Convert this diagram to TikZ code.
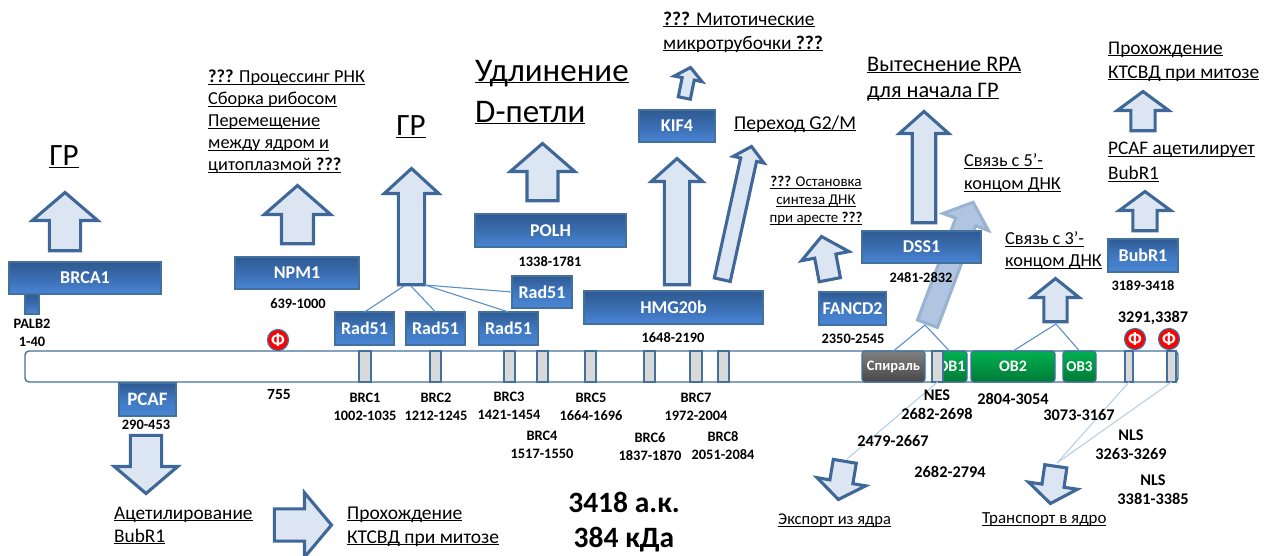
\documentclass[tikz,border=0pt]{standalone}
\usepackage{fontspec}
\setmainfont{Carlito}
\definecolor{ablue}{HTML}{3F6797}
\definecolor{afill}{HTML}{DCE6F2}
\definecolor{bline}{HTML}{41719C}
\definecolor{thin}{HTML}{5B8FC7}
\definecolor{pale}{HTML}{B9CFE7}
\definecolor{HMGt}{HTML}{2F5A92}
\definecolor{HMGm}{HTML}{3A6DB0}
\definecolor{HMGb}{HTML}{4A86D6}
\definecolor{HMGl}{HTML}{3F78C0}
\definecolor{GRt}{HTML}{00B050}
\definecolor{GRb}{HTML}{007A37}
\definecolor{ghostfill}{HTML}{AFC5E2}
\definecolor{ghostline}{HTML}{9AB3D0}
\newcommand\ulx[1]{\underline{\vphantom{H}\smash{#1}}}
\newcommand\fs[1]{\fontsize{#1}{#1}\selectfont}
\tikzset{
  x=1pt,y=-1pt,
  blockarrow/.style={draw=ablue,fill=afill,line width=3.1pt,miter limit=10},
  ghostarrow/.style={draw=ghostline,fill=ghostfill,line width=3.1pt},
  bigbox/.style={draw=bline,line width=1.2pt,top color=HMGt,bottom color=HMGb,middle color=HMGm,text=white,font=\fs{18}\bfseries},
  smallbox/.style={draw=bline,line width=1.2pt,top color=HMGt,bottom color=HMGb,middle color=HMGl,text=white,font=\fs{18}\bfseries},
  greenbox/.style={draw=bline,line width=1.2pt,rounded corners=3pt,top color=GRt,bottom color=GRb,text=white,font=\fs{16}\bfseries},
  greybox/.style={draw=bline,line width=1.2pt,rounded corners=3pt,top color=black!50,bottom color=black!72,text=white,font=\fs{14.5}\bfseries},
  brcbar/.style={draw=bline,line width=1.2pt,fill=black!15},
  mainbar/.style={draw=bline,line width=1.4pt,fill=white,rounded corners=4pt},
  phi/.style={circle,draw=bline,line width=1.2pt,fill=red,text=white,minimum size=21pt,inner sep=0pt,font=\fs{19}\bfseries},
  num/.style={inner sep=0pt,font=\fs{14.4}\bfseries},
  numb/.style={inner sep=0pt,font=\fs{16.3}\bfseries},
  txt/.style={inner sep=0pt,anchor=west,align=left},
  link/.style={draw=thin,line width=1.1pt},
  palelink/.style={draw=pale,line width=1.1pt},
}
% box from corners: name, x0,y0,x1,y1, style, text
\newcommand\bx[7]{%
  \pgfmathsetmacro\bcx{(#2+#4)/2}\pgfmathsetmacro\bcy{(#3+#5)/2}%
  \pgfmathsetmacro\bw{#4-#2}\pgfmathsetmacro\bh{#5-#3}%
  \node[#6,inner sep=0pt,outer sep=0pt,minimum width=\bw pt,minimum height=\bh pt] (#1) at (\bcx,\bcy) {#7};}
% block arrow: [style] base x,y  tip x,y  shaft  head width  head length
\newcommand\barrow[8][blockarrow]{%
  \pgfmathsetmacro\dx{#4-#2}\pgfmathsetmacro\dy{#5-#3}\pgfmathsetmacro\ll{veclen(\dx,\dy)}%
  \pgfmathsetmacro\ux{\dx/\ll}\pgfmathsetmacro\uy{\dy/\ll}%
  \pgfmathsetmacro\hx{#4-\ux*#8}\pgfmathsetmacro\hy{#5-\uy*#8}%
  \pgfmathsetmacro\sa{#6/2}\pgfmathsetmacro\ha{#7/2+1.2}%
  \path[#1] ({#2-\uy*\sa},{#3+\ux*\sa}) -- ({\hx-\uy*\sa},{\hy+\ux*\sa}) -- ({\hx-\uy*\ha},{\hy+\ux*\ha})
    -- (#4,#5) -- ({\hx+\uy*\ha},{\hy-\ux*\ha}) -- ({\hx+\uy*\sa},{\hy-\ux*\sa}) -- ({#2+\uy*\sa},{#3-\ux*\sa}) -- cycle;}
\begin{document}
\begin{tikzpicture}
\useasboundingbox (0,0) rectangle (1264,555);
\clip (0,0) rectangle (1264,555);
% links
\coordinate (radbaseA) at (404,286);
\coordinate (radbaseB) at (411,286);
\coordinate (radbaseC) at (425,285);
\coordinate (spiralapex) at (925,325);
\coordinate (obapex) at (1056,324);
\coordinate (exporttail) at (847,459);
\coordinate (transporttail) at (1057,463);
% main bar
\node[mainbar,inner sep=0pt,outer sep=0pt,minimum width=1153pt,minimum height=31pt] (bar) at (601.5,366.5) {};
% domains on the bar
\bx{spiral}{862}{351}{925}{382}{greybox}{Спираль}
\bx{ob1}{932}{351}{967}{382}{greenbox}{\hspace*{4pt}OB1}
\bx{ob2}{971}{351}{1055}{382}{greenbox}{OB2}
\bx{ob3}{1063}{351}{1096}{382}{greenbox,font=\fs{15}\bfseries}{OB3}
\bx{brcA}{359}{351}{371}{382}{brcbar}{}
\bx{brcB}{430}{351}{441}{382}{brcbar}{}
\bx{brcC}{504}{351}{515}{382}{brcbar}{}
\bx{brcD}{537}{351}{548}{382}{brcbar}{}
\bx{brcE}{585}{351}{596}{382}{brcbar}{}
\bx{brcF}{644}{351}{655}{382}{brcbar}{}
\bx{brcG}{690}{351}{702}{382}{brcbar}{}
\bx{brcH}{718}{351}{729}{382}{brcbar}{}
\bx{nesbar}{932}{351}{943}{382}{brcbar}{}
\bx{nlsA}{1125}{351}{1133}{382}{brcbar}{}
\bx{nlsB}{1167}{351}{1176}{382}{brcbar}{}
% arrows going up
\barrow{65}{250.7}{65}{192.5}{31.3}{63}{28}
\barrow{297.5}{243.7}{297.5}{185.5}{32}{64}{29}
\barrow{411.5}{284.7}{411.5}{168.5}{26.3}{52}{25}
\barrow{542.5}{200.7}{542.5}{143.5}{31}{62}{28}
\barrow{677}{284.7}{677}{158.5}{25.3}{49}{23}
\barrow{684.3}{98}{690.5}{67.5}{12.3}{26}{11.6}
\barrow{722.3}{279.7}{751.5}{146.5}{16.3}{29}{13.5}
\barrow{829.8}{279.7}{821.5}{236.5}{21.6}{46}{20}
\barrow{924}{222.7}{924}{111.5}{23.5}{47}{22}
\barrow{1055.5}{321.7}{1055.5}{278.5}{23.3}{45}{19}
\barrow{1145}{230.7}{1145}{191.5}{24.3}{49}{19}
\barrow{1143}{130.7}{1143}{91.5}{24.3}{49}{19}
\barrow[ghostarrow]{927.5}{323.7}{973.1}{202.3}{21.3}{46}{21}
% arrows going down / right
\barrow{146}{435.3}{146}{493.5}{31.3}{61}{27}
\barrow{274.3}{525}{331.5}{525}{32.3}{62}{27}
\barrow{844.8}{461.3}{838.4}{499.5}{23.3}{47}{18}
\barrow{1055.8}{466.3}{1050.4}{503.5}{22.3}{47}{18}
% protein boxes
\bx{brca}{9}{262}{161}{294}{bigbox}{BRCA1}
\bx{palb}{25}{294}{39}{314}{bigbox}{}
\bx{npm}{235}{257}{359}{289}{bigbox}{NPM1}
\bx{radA}{335}{312}{394}{345}{smallbox}{Rad51}
\bx{radB}{406}{312}{465}{345}{smallbox}{Rad51}
\bx{radC}{479}{312}{538}{345}{smallbox}{Rad51}
\bx{radD}{512}{276}{572}{308}{smallbox}{Rad51}
\bx{polh}{475}{214}{626}{247}{bigbox}{POLH}
\bx{hmg}{584}{291}{763}{324}{bigbox}{HMG20b}
\bx{kif}{639}{110}{715}{142}{bigbox}{KIF4}
\bx{fancd}{819}{292}{886}{325}{smallbox}{FANCD2}
\bx{dss}{862}{231}{981}{263}{bigbox}{DSS1}
\bx{bubr}{1108}{239}{1178}{272}{smallbox}{BubR1}
\bx{pcaf}{119}{383}{176}{416}{smallbox,font=\fs{19}\bfseries}{PCAF}
% connectors
\draw[link] (radbaseA) -- (radA.north);
\draw[link] (radbaseB) -- (radB.north);
\draw[link] (radbaseC) -- (radC.north);
\draw[link] (radbaseC) -- (radD.west);
\draw[link] (spiralapex) -- (spiral.north);
\draw[link] (spiralapex) -- (ob1.north);
\draw[link] (obapex) -- (ob2.north);
\draw[link] (obapex) -- (ob3.north);
\draw[palelink] (nesbar.south) -- (exporttail);
\draw[palelink] (nlsA.south) -- (transporttail);
\draw[palelink] (nlsB.south) -- (transporttail);
% phosphorylation
\node[phi] (phA) at (278,340) {Ф};
\node[phi] (phB) at (1135,339) {Ф};
\node[phi] (phC) at (1169,339) {Ф};
% numbers
\node[num] (tPalb) at (32,324) {PALB2};
\node[num] (tPalbN) at (32,342) {1-40};
\node[num] (tNpm) at (298,304) {639-1000};
\node[num] (tPcaf) at (146,425) {290-453};
\node[num,font=\fs{15.5}\bfseries] (t755) at (279,395) {755};
\node[num] (tbA) at (365,398) {BRC1};
\node[num] (tbAn) at (365,416) {1002-1035};
\node[num] (tbB) at (436,398) {BRC2};
\node[num] (tbBn) at (436,416) {1212-1245};
\node[num] (tbC) at (509,397) {BRC3};
\node[num] (tbCn) at (509,415) {1421-1454};
\node[num] (tbD) at (542,436) {BRC4};
\node[num] (tbDn) at (542,454) {1517-1550};
\node[num] (tbE) at (591,398) {BRC5};
\node[num] (tbEn) at (591,416) {1664-1696};
\node[num] (tbF) at (650,438) {BRC6};
\node[num] (tbFn) at (650,456) {1837-1870};
\node[num] (tbG) at (696,398) {BRC7};
\node[num] (tbGn) at (696,416) {1972-2004};
\node[num] (tbH) at (723,437) {BRC8};
\node[num] (tbHn) at (723,455) {2051-2084};
\node[num] (tPolh) at (550,262) {1338-1781};
\node[num] (tHmg) at (673,338) {1648-2190};
\node[num] (tFanc) at (853,339) {2350-2545};
\node[num] (tDss) at (921,278) {2481-2832};
\node[num] (tBub) at (1143,286) {3189-3418};
\node[numb] (tPh) at (1153,318) {3291,3387};
\node[numb] (tNes) at (937,395) {NES};
\node[numb] (tNesn) at (937,414) {2682-2698};
\node[numb] (tOb2) at (1013,399) {2804-3054};
\node[numb] (tOb3) at (1079,415) {3073-3167};
\node[numb] (tOb0) at (893,441) {2479-2667};
\node[numb] (tOb1) at (950,472) {2682-2794};
\node[numb] (tNlsA) at (1131,435) {NLS};
\node[numb] (tNlsAn) at (1131,454) {3263-3269};
\node[numb] (tNlsB) at (1153,480) {NLS};
\node[numb] (tNlsBn) at (1153,499) {3381-3385};
\node[inner sep=0pt,font=\fs{29.5}\bfseries] (tAa) at (624,502) {3418 а.к.};
\node[inner sep=0pt,font=\fs{29.5}\bfseries] (tKd) at (624,540) {384 кДа};
% function labels
\node[txt,anchor=center,font=\fs{31}] (lGrA) at (64,157) {\ulx{ГР}};
\node[txt,font=\fontsize{18.3}{22}\selectfont] (lNpm) at (208,122) {\ulx{\textbf{???} Процессинг РНК}\\\ulx{Сборка рибосом}\\\ulx{Перемещение}\\\ulx{между ядром и}\\\ulx{цитоплазмой \textbf{???}}};
\node[txt,anchor=center,font=\fs{31}] (lGrB) at (411,127) {\ulx{ГР}};
\node[txt,font=\fontsize{33}{41}\selectfont] (lDl) at (475,92) {\ulx{Удлинение}\\\ulx{D-петли}};
\node[txt,font=\fontsize{19.4}{24}\selectfont] (lMt) at (663,32) {\ulx{\textbf{???} Митотические}\\\ulx{микротрубочки \textbf{???}}};
\node[txt,font=\fs{19.6}] (lG2) at (734,124) {\ulx{Переход G2/M}};
\node[txt,font=\fontsize{22.3}{26}\selectfont] (lRpa) at (867,78) {\ulx{Вытеснение RPA}\\\ulx{для начала ГР}};
\node[txt,font=\fontsize{19.4}{24}\selectfont] (lKt) at (1108,61) {\ulx{Прохождение}\\\ulx{КТСВД при митозе}};
\node[txt,font=\fontsize{19.2}{25}\selectfont] (lPc) at (1108,162) {\ulx{PCAF ацетилирует}\\\ulx{BubR1}};
\node[txt,font=\fontsize{18.3}{23}\selectfont] (lFive) at (964,173) {\ulx{Связь с 5’-}\\\ulx{концом ДНК}};
\node[txt,font=\fontsize{18.3}{22}\selectfont] (lThree) at (1005,251) {\ulx{Связь с 3’-}\\\ulx{концом ДНК}};
\node[txt,anchor=center,align=center,font=\fontsize{14.9}{18}\selectfont] (lArr) at (816,201) {\ulx{\textbf{???} Остановка}\\\ulx{синтеза ДНК}\\\ulx{при аресте \textbf{???}}};
\node[txt,font=\fontsize{19.3}{23}\selectfont] (lAc) at (114,525.5) {\ulx{Ацетилирование}\\\ulx{BubR1}};
\node[txt,font=\fontsize{19.5}{24}\selectfont] (lKtB) at (347,526) {\ulx{Прохождение}\\\ulx{КТСВД при митозе}};
\node[txt,font=\fs{16.5}] (lEx) at (778,520) {\ulx{Экспорт из ядра}};
\node[txt,font=\fs{16.9}] (lTr) at (982,519) {\ulx{Транспорт в ядро}};
\end{tikzpicture}
\end{document}
